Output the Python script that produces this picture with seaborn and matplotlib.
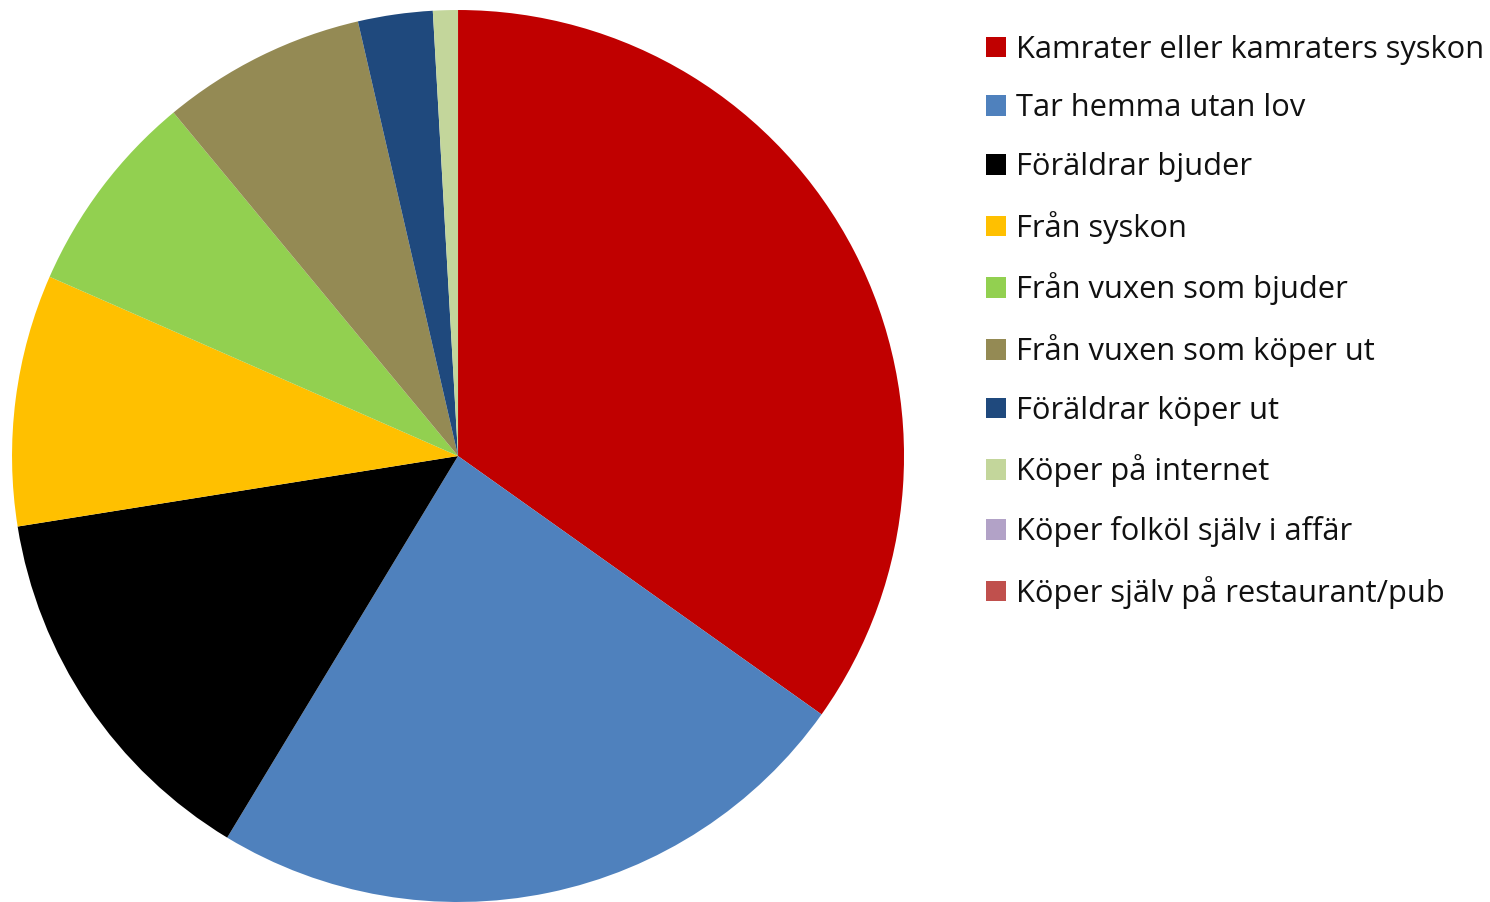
'''Pie chart: where young people get alcohol from (Swedish survey).'''

import matplotlib
matplotlib.use('Agg')
import matplotlib.pyplot as plt
import seaborn as sns

# labels in legend order
labels = [
    'Kamrater eller kamraters syskon',
    'Tar hemma utan lov',
    'Föräldrar bjuder',
    'Från syskon',
    'Från vuxen som bjuder',
    'Från vuxen som köper ut',
    'Föräldrar köper ut',
    'Köper på internet',
    'Köper folköl själv i affär',
    'Köper själv på restaurant/pub',
]

# share in percent
shares = [34.8, 23.8, 13.8, 9.1, 7.4, 7.4, 2.7, 0.9, 0.0, 0.0]

colors = ['#C00000', '#4F81BD', '#000000', '#FFC000', '#92D050',
          '#948A54', '#1F497D', '#C3D69B', '#B2A2C7', '#C0504D']

sns.set_theme(style='white')
plt.rcParams['font.family'] = ['Open Sans', 'DejaVu Sans']

fig = plt.figure(figsize=(14.9, 9.02), dpi=100)
ax = fig.add_axes([0.00805, 0.0, 0.5987, 0.9889])

wedges, _ = ax.pie(shares, colors=colors, startangle=90, counterclock=False,
                   radius=1.0, wedgeprops={'linewidth': 0})
ax.set_xlim(-1, 1)
ax.set_ylim(-1, 1)
ax.set_aspect('equal')
ax.axis('off')

# legend on the right, one entry per category
leg = fig.legend(wedges, labels, loc='upper left', bbox_to_anchor=(0.6617, 0.9615),
                 frameon=False, prop={'size': 22.2},
                 handlelength=0.65, handleheight=0.65,
                 handletextpad=0.32, labelspacing=0.93, borderpad=0, borderaxespad=0)
for t in leg.get_texts():
    t.set_color('#111111')

fig.savefig('out.png', dpi=100, facecolor='white')
